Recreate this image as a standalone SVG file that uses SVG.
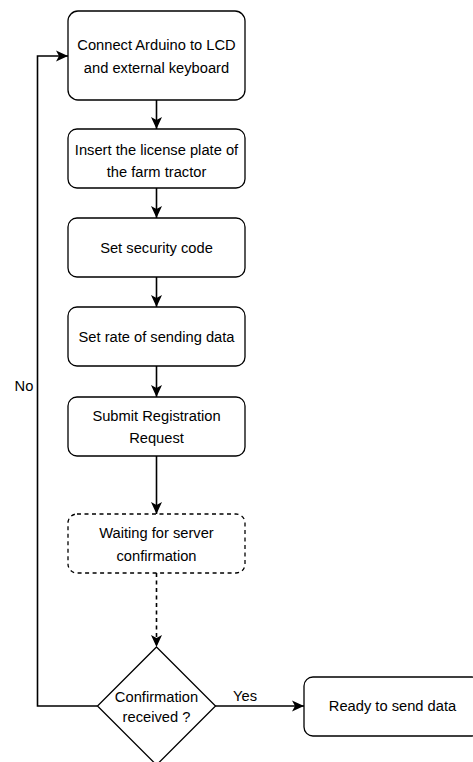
<svg xmlns="http://www.w3.org/2000/svg" width="473" height="762" viewBox="0 0 473 762">
  <style>
    .box { fill: #ffffff; stroke: #000000; stroke-width: 1.3; }
    .dash { stroke-dasharray: 4 3.5; }
    .lbl { font-family: "Liberation Sans", Arial, sans-serif; font-size: 14.7px; fill: #000000; text-anchor: middle; }
    .edge { fill: none; stroke: #000000; stroke-width: 1.6; }
  </style>
  <defs>
    <marker id="arrow" markerUnits="userSpaceOnUse" markerWidth="14" markerHeight="14" refX="12" refY="6" orient="auto">
      <path d="M0,0.5 L12,6 L0,11.5 L3,6 Z" fill="#000000" stroke="none"/>
    </marker>
  </defs>
  <rect width="473" height="762" fill="#ffffff"/>

  <g id="connectors">
    <line class="edge" x1="156.5" y1="100" x2="156.5" y2="129" marker-end="url(#arrow)"/>
    <line class="edge" x1="156.5" y1="188" x2="156.5" y2="218" marker-end="url(#arrow)"/>
    <line class="edge" x1="156.5" y1="277" x2="156.5" y2="307" marker-end="url(#arrow)"/>
    <line class="edge" x1="156.5" y1="366" x2="156.5" y2="397" marker-end="url(#arrow)"/>
    <line class="edge" x1="156.5" y1="456" x2="156.5" y2="514" marker-end="url(#arrow)"/>
    <line class="edge dash" x1="156.5" y1="573" x2="156.5" y2="647" marker-end="url(#arrow)"/>
    <line class="edge" x1="215" y1="706" x2="304" y2="706" marker-end="url(#arrow)"/>
    <polyline class="edge" points="97.5,706 37.5,706 37.5,56 68,56" marker-end="url(#arrow)"/>
    <text class="lbl" x="245" y="701">Yes</text>
    <text class="lbl" x="24" y="391">No</text>
  </g>

  <g id="n1">
    <rect class="box" x="68" y="11" width="177" height="89" rx="10"/>
    <text class="lbl" x="156.5" y="50">Connect Arduino to LCD</text>
    <text class="lbl" x="156.5" y="73">and external keyboard</text>
  </g>
  <g id="n2">
    <rect class="box" x="68" y="129" width="177" height="59" rx="9"/>
    <text class="lbl" x="156.5" y="155">Insert the license plate of</text>
    <text class="lbl" x="156.5" y="177">the farm tractor</text>
  </g>
  <g id="n3">
    <rect class="box" x="68" y="218" width="177" height="59" rx="9"/>
    <text class="lbl" x="156.5" y="253">Set security code</text>
  </g>
  <g id="n4">
    <rect class="box" x="68" y="307" width="177" height="59" rx="9"/>
    <text class="lbl" x="156.5" y="342">Set rate of sending data</text>
  </g>
  <g id="n5">
    <rect class="box" x="68" y="397" width="177" height="59" rx="9"/>
    <text class="lbl" x="156.5" y="420.5">Submit Registration</text>
    <text class="lbl" x="156.5" y="443">Request</text>
  </g>
  <g id="n6">
    <rect class="box dash" x="68" y="514" width="177" height="59" rx="9"/>
    <text class="lbl" x="156.5" y="538">Waiting for server</text>
    <text class="lbl" x="156.5" y="561">confirmation</text>
  </g>
  <g id="n7">
    <polygon class="box" points="156.5,647 215.5,706 156.5,765 97.5,706"/>
    <text class="lbl" x="156.5" y="701.5">Confirmation</text>
    <text class="lbl" x="156.5" y="722">received ?</text>
  </g>
  <g id="n8">
    <rect class="box" x="304" y="677" width="177" height="59" rx="9"/>
    <text class="lbl" x="392.5" y="711">Ready to send data</text>
  </g>
</svg>
